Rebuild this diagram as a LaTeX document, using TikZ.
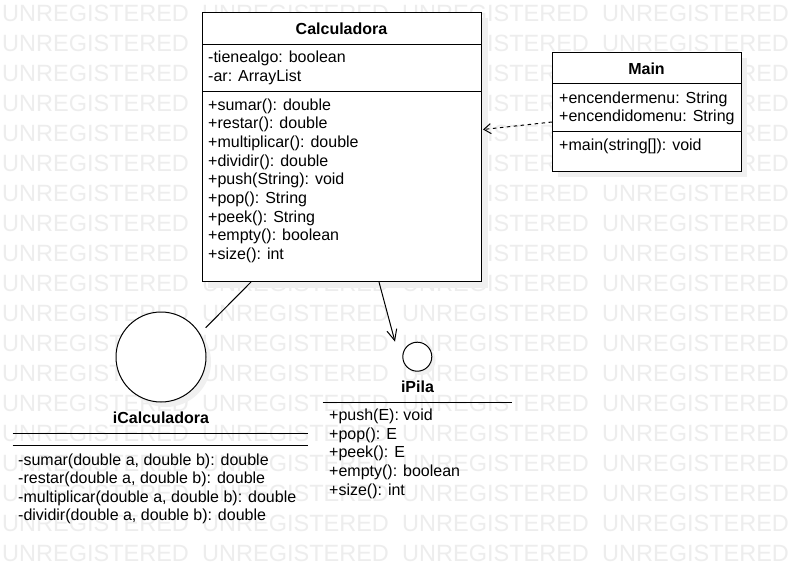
\documentclass[tikz,border=0pt]{standalone}
\usepackage{fontspec}
\setmainfont{Liberation Sans}
\usetikzlibrary{arrows.meta,calc}
\begin{document}
\begin{tikzpicture}[x=1pt,y=-1pt,
  txt/.style={anchor=base west, inner sep=0pt, font=\fontsize{16}{19}\selectfont},
  ttl/.style={anchor=base, inner sep=0pt, font=\fontsize{16}{19}\selectfont\bfseries},
  wm/.style={anchor=base west, inner sep=0pt, text=black!7, font=\fontsize{23.5}{28}\selectfont},
  box/.style={draw=black, line width=1pt, fill=white, inner sep=0pt, anchor=north west},
  shad/.style={fill=black!6, draw=none},
  ln/.style={line width=1pt},
  ctip/.style={-{Straight Barb[length=11pt,width=10pt,line width=1pt]}},
  dtip/.style={-{Straight Barb[length=7pt,width=10pt,line width=1pt]}},
]
\useasboundingbox (0,0) rectangle (790,581);
\fill[white] (0,0) rectangle (790,581);
% watermark
\foreach \r in {0,...,18} {
  \foreach \c in {0,...,3} {
    \node[wm] (wm-\r-\c) at (2+200*\c, 21+30*\r) {UNREGISTERED};
  }
}
% shadows
\fill[shad] (208,18) rectangle (488,288);
\fill[shad] (558,58) rectangle (747,177);
\fill[shad] (166,362) circle (45);
\fill[shad] (421,360.5) circle (14.5);

% Calculadora
\node[box, minimum width=279pt, minimum height=269pt] (calc) at (202,12) {};
\draw[ln] (202,44) -- (481,44);
\draw[ln] (202,91) -- (481,91);
\node[ttl] (calc-t) at (341.5,34.3) {Calculadora};
\node[txt] (calc-a1) at (208,62.7) {-tienealgo: boolean};
\node[txt] (calc-a2) at (208,81.5) {-ar: ArrayList};
\foreach \t [count=\i from 0] in {+sumar(): double,+restar(): double,+multiplicar(): double,+dividir(): double,+push(String): void,+pop(): String,+peek(): String,+empty(): boolean,+size(): int} {
  \node[txt] (calc-m\i) at (208,110+18.67*\i) {\t};
}

% Main
\node[box, minimum width=189pt, minimum height=119pt] (main) at (552,52) {};
\draw[ln] (552,83.3) -- (741,83.3);
\draw[ln] (552,131) -- (741,131);
\node[ttl] (main-t) at (646.5,74) {Main};
\node[txt] (main-a1) at (559,103.3) {+encendermenu: String};
\node[txt] (main-a2) at (559,121.5) {+encendidomenu: String};
\node[txt] (main-m1) at (559,150) {+main(string[]): void};

% iCalculadora
\node[circle, draw=black, line width=1pt, fill=white, minimum size=90pt, inner sep=0pt] (ic) at (161,357) {};
\node[ttl] (ic-t) at (161,423.3) {iCalculadora};
\draw[ln] (12.7,433.7) -- (308,433.7);
\draw[ln] (12.7,445.7) -- (308,445.7);
\foreach \t [count=\i from 0] in {{-sumar(double a, double b): double},{-restar(double a, double b): double},{-multiplicar(double a, double b): double},{-dividir(double a, double b): double}} {
  \node[txt] (ic-m\i) at (18,465+18.6*\i) {\t};
}

% iPila
\node[circle, draw=black, line width=1pt, fill=white, minimum size=29pt, inner sep=0pt] (ip) at (417.3,356.7) {};
\node[ttl] (ip-t) at (417.5,392.3) {iPila};
\draw[ln] (322.7,402.3) -- (512.3,402.3);
\foreach \t [count=\i from 0] in {+push(E): void,+pop(): E,+peek(): E,+empty(): boolean,+size(): int} {
  \node[txt] (ip-m\i) at (329,420.3+18.7*\i) {\t};
}

% connectors
\coordinate (icend) at (205.7,327.7);
\coordinate (ipend) at (395,341.7);
\draw[ln] ($(calc.south west)+(49,0)$) -- (icend);
\draw[ln, ctip] ($(calc.south west)+(177,0)$) -- (ipend);
\draw[ln, dtip, dash pattern=on 3.5pt off 3.5pt] ($(main.north west)+(0,70)$) -- ($(calc.north east)+(1,117.5)$);
\end{tikzpicture}
\end{document}
